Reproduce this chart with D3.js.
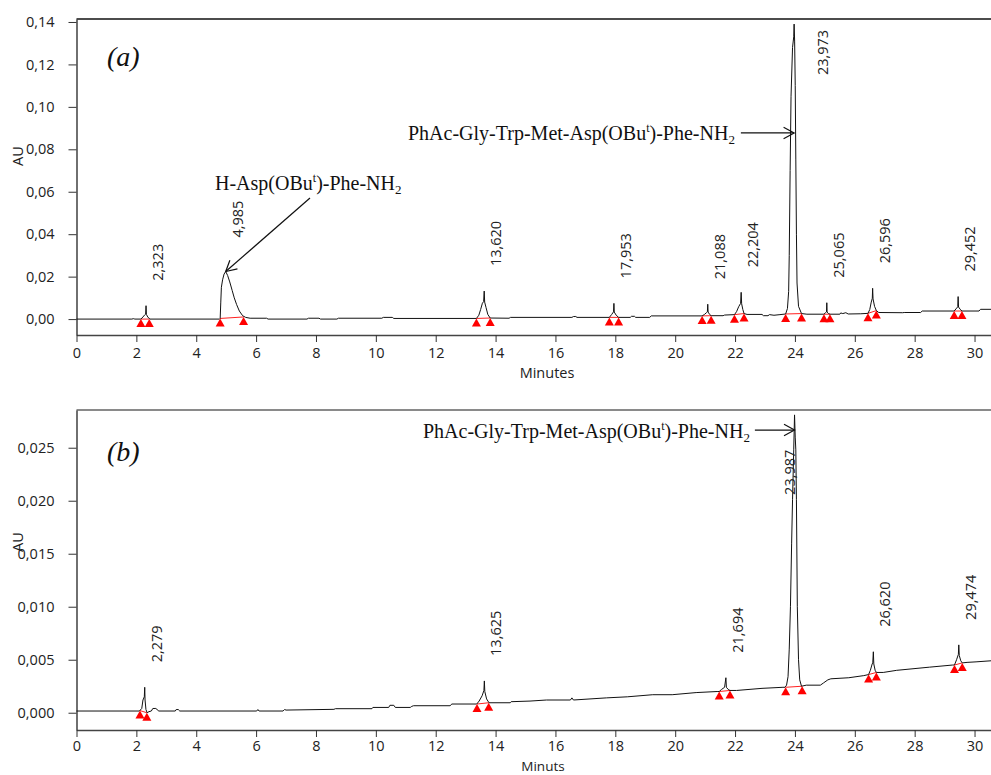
<!DOCTYPE html>
<html>
<head>
<meta charset="utf-8">
<script src="https://cdn.jsdelivr.net/npm/d3@7"></script>
<style>
  html, body { margin: 0; padding: 0; background: #fff; }
  svg { display: block; }
</style>
</head>
<body>
<svg id="chart" width="991" height="775"></svg>
<script>
// ---------- HPLC chromatograms: trace (a) and trace (b) ----------

// Trace (a): [time in minutes, absorbance in AU]
const traceA = [
  [0, 0.0000], [1.85, 0.0000], [1.9, 0.0002], [1.95, 0.0000],
  [2.15, 0.0000], [2.22, 0.0010], [2.28, 0.0020], [2.31, 0.0023], [2.323, 0.0063], [2.335, 0.0022], [2.38, 0.0010], [2.45, 0.0000],
  [4.78, 0.0000], [4.80, 0.0003], [4.82, 0.0080], [4.84, 0.0150], [4.88, 0.0185], [4.93, 0.0212], [4.985, 0.0224],
  [5.05, 0.0205], [5.12, 0.0175], [5.20, 0.0135], [5.27, 0.0100], [5.35, 0.0068], [5.44, 0.0038], [5.55, 0.0016],
  [5.65, 0.0008], [5.80, 0.0004], [6.35, 0.0004], [6.40, 0.0000], [7.70, 0.0000], [7.75, 0.0004], [8.10, 0.0004],
  [8.15, 0.0000], [8.70, 0.0000], [8.75, 0.0004], [10.20, 0.0004], [10.25, 0.0008], [10.55, 0.0008], [10.60, 0.0003],
  [13.36, 0.0003], [13.44, 0.0018], [13.50, 0.0045], [13.56, 0.0075], [13.60, 0.0082], [13.62, 0.0132], [13.635, 0.0080],
  [13.68, 0.0055], [13.74, 0.0022], [13.82, 0.0005], [14.45, 0.0004], [14.50, 0.0008], [16.55, 0.0008], [16.60, 0.0012],
  [16.68, 0.0012], [16.72, 0.0008], [17.80, 0.0008], [17.88, 0.0022], [17.94, 0.0034], [17.953, 0.0074], [17.965, 0.0033],
  [18.03, 0.0018], [18.11, 0.0008], [18.50, 0.0008], [18.54, 0.0013], [18.64, 0.0013], [18.68, 0.0008], [19.15, 0.0008],
  [19.20, 0.0015], [20.90, 0.0015], [20.98, 0.0022], [21.05, 0.0031], [21.075, 0.0034], [21.088, 0.0070], [21.10, 0.0033],
  [21.15, 0.0022], [21.20, 0.0016], [21.60, 0.0016], [21.65, 0.0019], [21.98, 0.0021], [22.05, 0.0035], [22.12, 0.0058],
  [22.185, 0.0074], [22.204, 0.0126], [22.22, 0.0072], [22.26, 0.0045], [22.30, 0.0026], [22.40, 0.0022], [22.90, 0.0022],
  [22.95, 0.0016], [23.10, 0.0016], [23.15, 0.0021], [23.30, 0.0018], [23.50, 0.0021], [23.69, 0.0024],
  [23.75, 0.0050], [23.79, 0.0130], [23.81, 0.0300], [23.84, 0.0700], [23.87, 0.1050], [23.92, 0.1280], [23.96, 0.1330],
  [23.973, 0.1390], [23.99, 0.1310], [24.01, 0.1100], [24.03, 0.0750], [24.05, 0.0400], [24.07, 0.0170], [24.12, 0.0060],
  [24.22, 0.0026], [24.40, 0.0023], [24.97, 0.0023], [25.02, 0.0030], [25.055, 0.0034], [25.065, 0.0077], [25.075, 0.0033],
  [25.12, 0.0026], [25.17, 0.0023], [25.50, 0.0023], [25.53, 0.0029], [25.60, 0.0026], [25.70, 0.0030], [25.78, 0.0024],
  [26.20, 0.0025], [26.44, 0.0027], [26.50, 0.0045], [26.55, 0.0080], [26.585, 0.0098], [26.596, 0.0145], [26.61, 0.0095],
  [26.66, 0.0060], [26.72, 0.0040], [26.80, 0.0031], [27.60, 0.0030], [27.65, 0.0031], [28.20, 0.0031], [28.25, 0.0038],
  [29.32, 0.0038], [29.38, 0.0048], [29.44, 0.0058], [29.452, 0.0106], [29.465, 0.0057], [29.52, 0.0046], [29.58, 0.0038],
  [30.15, 0.0038], [30.20, 0.0046], [30.55, 0.0046]
];

// Trace (b)
const traceB = [
  [0, 0.00016], [2.10, 0.00016], [2.18, 0.0004], [2.22, 0.0012], [2.265, 0.0015], [2.279, 0.0024], [2.29, 0.0012],
  [2.32, 0.0003], [2.36, 0.0000], [2.42, 0.0001], [2.50, 0.00016], [2.55, 0.0004], [2.65, 0.0004], [2.75, 0.00016],
  [3.30, 0.00016], [3.33, 0.0003], [3.40, 0.0003], [3.45, 0.00016], [6.02, 0.00016], [6.06, 0.0003], [6.10, 0.00016],
  [6.90, 0.00016], [6.95, 0.0003], [7.00, 0.00025], [8.60, 0.00032], [8.65, 0.00038], [9.87, 0.00038], [9.90, 0.0005],
  [10.43, 0.0005], [10.47, 0.0007], [10.60, 0.0007], [10.65, 0.0005], [11.15, 0.0005], [11.20, 0.0006], [11.26, 0.00066],
  [12.48, 0.00066], [12.54, 0.00082], [13.37, 0.00082], [13.45, 0.0011], [13.55, 0.0016], [13.61, 0.0021], [13.625, 0.0030],
  [13.64, 0.0020], [13.70, 0.0013], [13.78, 0.00094], [14.49, 0.00094], [14.52, 0.00104], [15.15, 0.0011], [15.70, 0.0012],
  [16.50, 0.0012], [16.55, 0.0014], [16.60, 0.0012], [17.70, 0.0014], [18.40, 0.0015], [19.25, 0.0017], [19.90, 0.0017],
  [20.70, 0.0019], [21.40, 0.0020], [21.47, 0.0020], [21.55, 0.0022], [21.65, 0.0024], [21.694, 0.0033], [21.71, 0.0024],
  [21.77, 0.0022], [21.83, 0.0021], [22.05, 0.0021], [22.90, 0.0023], [23.60, 0.0024], [23.67, 0.0024],
  [23.72, 0.0026], [23.77, 0.0034], [23.81, 0.0060], [23.85, 0.0100], [23.89, 0.0160], [23.92, 0.0201], [23.96, 0.0248],
  [23.987, 0.0281], [24.01, 0.0260], [24.03, 0.0248], [24.05, 0.0201], [24.08, 0.0100], [24.12, 0.0050], [24.16, 0.0031],
  [24.22, 0.0025], [24.38, 0.0026], [24.85, 0.0026], [24.95, 0.0028], [25.10, 0.0031], [25.20, 0.0032], [25.80, 0.0033],
  [26.30, 0.0035], [26.46, 0.0036], [26.52, 0.0040], [26.58, 0.0046], [26.60, 0.0047], [26.62, 0.00575], [26.635, 0.0046],
  [26.68, 0.0040], [26.72, 0.0038], [26.95, 0.0038], [27.40, 0.0040], [28.50, 0.0043], [29.27, 0.0045], [29.33, 0.0045],
  [29.40, 0.0050], [29.46, 0.0055], [29.474, 0.0064], [29.49, 0.0054], [29.54, 0.0049], [29.59, 0.0047], [29.75, 0.00475],
  [30.05, 0.0048], [30.55, 0.0049]
];

// Integrated peaks: retention time, apex value, integration start / end
const peakRtA    = [2.323, 4.985, 13.620, 17.953, 21.088, 22.204, 23.973, 25.065, 26.596, 29.452];
const peakTipA   = [0.0063, 0.0224, 0.0132, 0.0074, 0.0070, 0.0126, 0.1390, 0.0077, 0.0145, 0.0106];
const peakStartA = [[2.15, 0.0000], [4.80, 0.0003], [13.36, 0.0003], [17.80, 0.0008], [20.90, 0.0015],
                    [21.98, 0.0021], [23.69, 0.0024], [24.97, 0.0023], [26.44, 0.0027], [29.32, 0.0038]];
const peakEndA   = [[2.43, 0.0000], [5.58, 0.0010], [13.82, 0.0005], [18.11, 0.0008], [21.20, 0.0016],
                    [22.30, 0.0026], [24.22, 0.0026], [25.17, 0.0023], [26.72, 0.0040], [29.58, 0.0038]];

const peakRtB    = [2.279, 13.625, 21.694, 23.987, 26.620, 29.474];
const peakTipB   = [0.0024, 0.0030, 0.0033, 0.0281, 0.00575, 0.0064];
const peakStartB = [[2.12, 0.0002], [13.38, 0.00082], [21.47, 0.0020], [23.69, 0.0024], [26.46, 0.0036], [29.33, 0.0045]];
const peakEndB   = [[2.35, 0.0000], [13.77, 0.00094], [21.83, 0.0021], [24.24, 0.0025], [26.72, 0.0038], [29.59, 0.0047]];

// Axis ticks
const xMajorTicks = d3.range(0, 31, 2);
const xMinorTicks = d3.range(1, 62).map(i => i * 0.5).filter(v => v % 2 !== 0);
const yMajorTicksA = d3.range(0, 8).map(i => i * 0.02);
const yMinorTicksA = d3.range(-1, 29).filter(i => i % 4 !== 0).map(i => i * 0.005);
const yMajorTicksB = d3.range(0, 6).map(i => i * 0.005);
const yMinorTicksB = d3.range(-1, 29).filter(i => i % 5 !== 0).map(i => i * 0.001);

// Annotated compounds: arrow target [time, AU]
const compoundDipeptide = "H-Asp(OBu|t|)-Phe-NH|2";
const compoundPeptide   = "PhAc-Gly-Trp-Met-Asp(OBu|t|)-Phe-NH|2";
const arrowTargetDipA = [4.985, 0.0224];
const arrowTargetPepA = [23.973, 0.0877];
const arrowTargetPepB = [23.987, 0.02667];

// ---------- drawing ----------
const svg = d3.select("#chart");
svg.append("rect").attr("width", 991).attr("height", 775).attr("fill", "#fff");

const sans = "'Open Sans', 'DejaVu Sans', sans-serif";
const serif = "'Liberation Serif', 'Times New Roman', serif";
const comma = d3.formatLocale({ decimal: ",", thousands: ".", grouping: [3], currency: ["", ""] });
const fmtRt = comma.format(".3f");

const x = d3.scaleLinear().domain([0, 30.55]).range([76.5, 991]);

function drawPanel(p) {
  const y = d3.scaleLinear().domain(p.yDomain).range([p.bottom, p.top]);
  const g = svg.append("g");

  // frame top edge
  g.append("line")
    .attr("x1", x.range()[0]).attr("x2", x.range()[1])
    .attr("y1", p.top).attr("y2", p.top)
    .attr("stroke", p.frameColor).attr("stroke-width", p.frameWidth);

  // x axis
  const xAxisG = g.append("g").attr("transform", `translate(0,${p.bottom})`);
  xAxisG.call(d3.axisBottom(x).tickValues(xMinorTicks).tickSize(4).tickFormat("").tickSizeOuter(0));
  xAxisG.call(d3.axisBottom(x).tickValues(xMajorTicks).tickSize(7).tickPadding(p.xPad).tickSizeOuter(0));
  xAxisG.selectAll("path.domain").attr("stroke", "#444").attr("stroke-width", 1.4);
  xAxisG.selectAll(".tick line").attr("stroke", "#333");
  xAxisG.selectAll("text").attr("font-family", sans).attr("font-size", 14.5).attr("fill", "#222");

  // y axis
  const yAxisG = g.append("g").attr("transform", `translate(${x.range()[0]},0)`);
  yAxisG.call(d3.axisLeft(y).tickValues(p.yMinor).tickSize(4).tickFormat("").tickSizeOuter(0));
  yAxisG.call(d3.axisLeft(y).tickValues(p.yMajor).tickSize(8).tickPadding(14)
    .tickFormat(comma.format(p.yFmt)).tickSizeOuter(0));
  yAxisG.selectAll("path.domain").attr("stroke", "#333").attr("stroke-width", 1.4);
  yAxisG.selectAll(".tick line").attr("stroke", "#333");
  yAxisG.selectAll("text").attr("font-family", sans).attr("font-size", 14.5).attr("fill", "#222");

  // axis titles
  g.append("text")
    .attr("transform", `translate(18,${p.auY}) rotate(-90)`)
    .attr("text-anchor", "middle").attr("dy", "0.35em")
    .attr("font-family", sans).attr("font-size", 14.5).attr("fill", "#222")
    .text("AU");
  g.append("text")
    .attr("x", p.xTitleX).attr("y", p.xTitleY)
    .attr("text-anchor", "middle")
    .attr("font-family", sans).attr("font-size", p.xTitleSize).attr("fill", "#222")
    .text(p.xTitle);

  // panel letter
  g.append("text")
    .attr("x", 107).attr("y", p.letterY)
    .attr("font-family", serif).attr("font-style", "italic").attr("font-size", 28)
    .attr("fill", "#111")
    .text(p.letter);

  // integration baselines
  g.selectAll("line.base").data(p.starts.map((s, i) => [s, p.ends[i]])).join("line")
    .attr("class", "base")
    .attr("x1", d => x(d[0][0])).attr("y1", d => y(d[0][1]))
    .attr("x2", d => x(d[1][0])).attr("y2", d => y(d[1][1]))
    .attr("stroke", "#ff2020").attr("stroke-width", 1);

  // chromatogram trace
  g.append("path")
    .datum(p.trace)
    .attr("d", d3.line().x(d => x(d[0])).y(d => y(d[1])))
    .attr("fill", "none").attr("stroke", "#111").attr("stroke-width", 1)
    .attr("stroke-linejoin", "round");

  // peak start / end markers
  const marks = p.starts.concat(p.ends);
  g.selectAll("path.mark").data(marks).join("path")
    .attr("class", "mark")
    .attr("d", d => {
      const cx = x(d[0]), cy = y(d[1]);
      return `M${cx},${cy} L${cx - 4.5},${cy + 8} L${cx + 4.5},${cy + 8} Z`;
    })
    .attr("fill", "#ff0000");

  // retention time labels
  g.selectAll("text.rt").data(p.rt.map((r, i) => ({ rt: r, tip: p.tip[i] }))).join("text")
    .attr("class", "rt")
    .attr("transform", d => {
      const lab = fmtRt(d.rt);
      const sh = p.shift[lab] || [0, 0];
      return `translate(${x(d.rt) + 12 + sh[0]},${y(d.tip) - 25 + sh[1]}) rotate(-90)`;
    })
    .attr("dy", "0.35em")
    .attr("font-family", sans).attr("font-size", 14.5).attr("fill", "#222")
    .text(d => fmtRt(d.rt));

  return y;
}

// compound name with superscript / subscript parts
function compoundText(tx, ty, spec) {
  const parts = spec.split("|");
  const t = svg.append("text").attr("x", tx).attr("y", ty)
    .attr("font-family", serif).attr("font-size", 20).attr("fill", "#111");
  t.append("tspan").text(parts[0]);
  t.append("tspan").attr("font-size", 12).attr("dy", -8).text(parts[1]);
  t.append("tspan").attr("dy", 8).text(parts[2]);
  t.append("tspan").attr("font-size", 13).attr("dy", 4).text(parts[3]);
  return t;
}

function arrow(x0, y0, x1, y1) {
  const a = Math.atan2(y1 - y0, x1 - x0);
  const len = 12, spread = 0.5;
  const g = svg.append("g").attr("stroke", "#111").attr("stroke-width", 1.2).attr("fill", "none");
  g.append("line").attr("x1", x0).attr("y1", y0).attr("x2", x1).attr("y2", y1);
  g.append("path").attr("d",
    `M${x1 - len * Math.cos(a - spread)},${y1 - len * Math.sin(a - spread)} L${x1},${y1} ` +
    `L${x1 - len * Math.cos(a + spread)},${y1 - len * Math.sin(a + spread)}`);
}

const yA = drawPanel({
  top: 19, bottom: 335, yDomain: [-0.0075, 0.1414],
  yMajor: yMajorTicksA, yMinor: yMinorTicksA, yFmt: ".2f", xPad: 6,
  trace: traceA, rt: peakRtA, tip: peakTipA, starts: peakStartA, ends: peakEndA,
  shift: { "4,985": [0, -9], "23,973": [17, 76] },
  frameColor: "#111", frameWidth: 1.4,
  auY: 156, xTitle: "Minutes", xTitleX: 547, xTitleY: 378, xTitleSize: 14.5,
  letter: "(a)", letterY: 66
});

const yB = drawPanel({
  top: 410, bottom: 730, yDomain: [-0.00163, 0.02856],
  yMajor: yMajorTicksB, yMinor: yMinorTicksB, yFmt: ".3f", xPad: 4,
  trace: traceB, rt: peakRtB, tip: peakTipB, starts: peakStartB, ends: peakEndB,
  shift: { "23,987": [-17, 105] },
  frameColor: "#8a8a8a", frameWidth: 2,
  auY: 542, xTitle: "Minuts", xTitleX: 543, xTitleY: 771, xTitleSize: 13.5,
  letter: "(b)", letterY: 461
});

// compound annotations
compoundText(215, 190, compoundDipeptide);
arrow(310, 198, x(arrowTargetDipA[0]), yA(arrowTargetDipA[1]));

const pepA = compoundText(408, 140, compoundPeptide);
const bbA = pepA.node().getBBox();
arrow(bbA.x + bbA.width + 6, yA(arrowTargetPepA[1]), x(arrowTargetPepA[0]), yA(arrowTargetPepA[1]));

const pepB = compoundText(423, 438, compoundPeptide);
const bbB = pepB.node().getBBox();
arrow(bbB.x + bbB.width + 5, yB(arrowTargetPepB[1]), x(arrowTargetPepB[0]), yB(arrowTargetPepB[1]));
</script>
</body>
</html>
